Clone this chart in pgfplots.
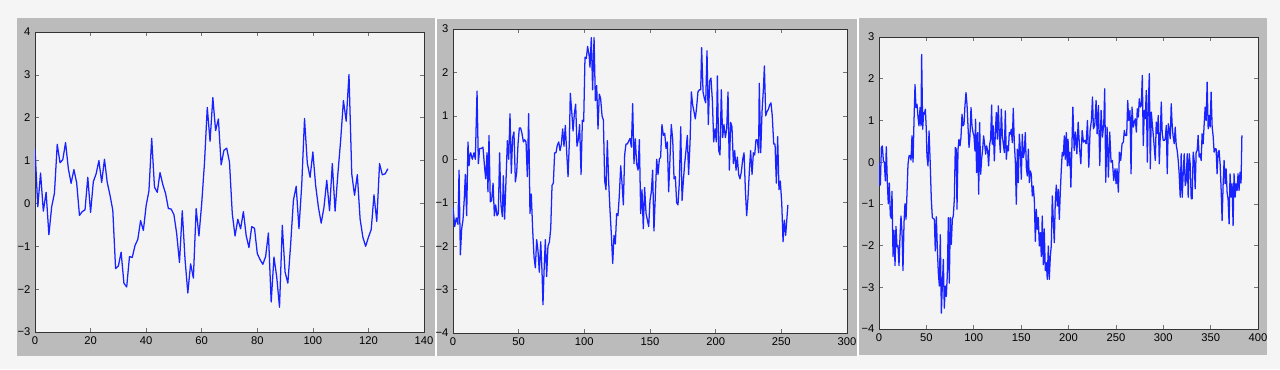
\documentclass[border=0pt]{standalone}
\usepackage{pgfplots}
\pgfplotsset{compat=1.18}
\usepackage{fontspec}
\setmainfont{Liberation Sans}
\definecolor{outerbg}{RGB}{245,245,245}
\definecolor{framegray}{RGB}{187,187,187}
\definecolor{axbg}{RGB}{244,244,244}
\definecolor{lineblue}{RGB}{25,35,255}
\pgfplotsset{mystyle/.style={
  scale only axis, anchor=south west,
  axis background/.style={fill=axbg},
  axis line style={black!80, line width=0.65pt},
  tick align=inside, tick pos=both,
  major tick length=3pt,
  every tick/.style={black!55, line width=0.4pt},
  tick label style={font=\fontsize{8.4}{9}\selectfont, text=black},
}}
\begin{document}
\begin{tikzpicture}
\useasboundingbox (0,0) rectangle (960pt,276.75pt);
\fill[outerbg] (0,0) rectangle (960pt,276.75pt);
\fill[white] (326.25pt,9.75pt) rectangle (327.75pt,263.25pt);
\fill[white] (643pt,9.75pt) rectangle (644.25pt,263.25pt);
\fill[framegray] (12.75pt,9.75pt) rectangle (326.25pt,263.25pt);
\fill[framegray] (327.75pt,9.75pt) rectangle (643pt,262.5pt);
\fill[framegray] (644.25pt,10.5pt) rectangle (950.25pt,263.25pt);

\begin{axis}[mystyle, at={(26.25pt,27.75pt)}, width=291.75pt, height=225pt,
  xmin=0, xmax=140, ymin=-3, ymax=4,
  xtick={0,20,40,60,80,100,120,140}, xticklabels={0,20,40,60,80,100,120,140},
  ytick={-3,-2,-1,0,1,2,3,4}, yticklabels={−3,−2,−1,0,1,2,3,4}]
\addplot[color=lineblue, line width=0.95pt, mark=none, line join=round] coordinates {
(0,1.28)(1,-0.08)(2,0.71)(3,-0.18)(4,0.26)(5,-0.73)(6,-0.08)(7,0.24)(8,1.38)(9,0.95)
(10,1.02)(11,1.42)(12,0.81)(13,0.47)(14,0.79)(15,0.48)(16,-0.28)(17,-0.19)(18,-0.15)(19,0.61)
(20,-0.21)(21,0.51)(22,0.69)(23,1.0)(24,0.49)(25,1.03)(26,0.49)(27,0.19)(28,-0.16)(29,-1.52)
(30,-1.46)(31,-1.14)(32,-1.86)(33,-1.95)(34,-1.24)(35,-1.26)(36,-0.98)(37,-0.84)(38,-0.40)(39,-0.63)
(40,-0.05)(41,0.29)(42,1.52)(43,0.38)(44,0.26)(45,0.72)(46,0.44)(47,0.23)(48,-0.12)(49,-0.13)
(50,-0.26)(51,-0.71)(52,-1.38)(53,-0.17)(54,-1.31)(55,-2.09)(56,-1.41)(57,-1.74)(58,-0.12)(59,-0.76)
(60,0.0)(61,0.95)(62,2.24)(63,1.45)(64,2.47)(65,1.7)(66,1.97)(67,0.9)(68,1.24)(69,1.29)
(70,0.96)(71,-0.24)(72,-0.76)(73,-0.37)(74,-0.59)(75,-0.19)(76,-0.75)(77,-1.03)(78,-0.54)(79,-0.58)
(80,-1.17)(81,-1.31)(82,-1.42)(83,-1.24)(84,-0.69)(85,-2.3)(86,-1.25)(87,-1.72)(88,-2.42)(89,-0.51)
(90,-1.6)(91,-1.86)(92,-0.96)(93,0.07)(94,0.4)(95,-0.59)(96,0.44)(97,1.98)(98,0.94)(99,0.61)
(100,1.2)(101,0.42)(102,-0.09)(103,-0.46)(104,-0.09)(105,0.54)(106,-0.17)(107,0.93)(108,-0.18)(109,0.69)
(110,1.47)(111,2.4)(112,1.92)(113,3.01)(114,0.69)(115,0.19)(116,0.67)(117,-0.36)(118,-0.79)(119,-1.0)
(120,-0.79)(121,-0.61)(122,0.2)(123,-0.42)(124,0.93)(125,0.67)(126,0.69)(127,0.81)
};
\end{axis}

\begin{axis}[mystyle, at={(339.75pt,27pt)}, width=295.5pt, height=228pt,
  xmin=0, xmax=300, ymin=-4, ymax=3,
  xtick={0,50,100,150,200,250,300}, xticklabels={0,50,100,150,200,250,300},
  ytick={-4,-3,-2,-1,0,1,2,3}, yticklabels={−4,−3,−2,−1,0,1,2,3}]
\addplot[color=lineblue, line width=0.95pt, mark=none, line join=round] coordinates {
(0,-1.1)(1.3,-1.55)(2.5,-1.35)(3.8,-1.5)(4.6,-0.25)(5.6,-2.2)(6.6,-1.6)(7.6,-1.4)(8.6,-0.9)(9.4,-0.35)
(10.4,-1.3)(11.4,0.4)(12.2,-0.15)(12.9,0.1)(13.5,0.15)(14.7,0.0)(16,0.15)(17,0.0)(18.3,1.57)(19.3,-0.1)
(20.3,0.25)(21.6,0.25)(22.8,0.28)(24.1,-0.2)(24.9,-0.45)(25.9,0.15)(26.6,-0.75)(27.4,0.55)(28.4,-0.98)(29.4,-0.95)
(30.5,-0.55)(31.5,-1.3)(32.5,-1.05)(33.5,-1.3)(34.5,-1.25)(35.5,0.15)(36.5,-1.05)(37.6,-1.32)(38.3,-0.38)(39.3,-1.38)
(40.4,-0.45)(41.4,0.43)(42.4,0.0)(43.4,1.05)(44.4,-0.32)(45.4,0.5)(46.4,0.63)(47.5,-0.52)(48.5,-0.3)(49.5,0.35)
(50.5,0.72)(51.5,0.72)(52.5,0.6)(53.6,0.4)(54.6,0.45)(55.6,0.4)(56.6,-0.4)(57.6,1.05)(58.6,-1.25)(59.6,-0.8)
(60.7,-1.65)(61.7,-2.25)(62.7,-2.5)(63.7,-1.85)(64.7,-2.1)(65.7,-2.6)(66.8,-1.9)(67.8,-2.6)(68.5,-3.35)(69.3,-2.6)
(70.3,-1.85)(71.3,-2.7)(72.3,-2.0)(73.4,-1.9)(74.4,-1.6)(75.4,-0.6)(76.4,-0.55)(77.4,0.15)(78.4,0.15)(79.4,0.32)
(80.5,0.4)(81.5,0.2)(82.5,0.35)(83.5,0.7)(84.5,0.3)(85.5,0.78)(86.5,0.2)(87.6,-0.4)(88.6,0.4)(89.3,1.52)
(90.4,1.1)(91.4,0.65)(92.4,1.05)(93.4,1.27)(94.4,0.3)(95.4,0.45)(96.4,0.8)(97.5,-0.35)(98.5,0.9)(99.5,0.87)
(100.5,2.35)(101.5,2.32)(102.5,2.6)(103.6,2.4)(104.3,2.12)(105.3,2.8)(106.3,1.6)(107.4,2.8)(108.4,1.35)(109.4,1.7)
(110.4,0.7)(111.4,1.5)(112.4,1.4)(113.5,1.0)(114.5,0.9)(115.5,-0.5)(116.5,-0.7)(117.5,0.43)(118.5,-0.5)(119.5,-1.15)
(120.6,-1.75)(121.6,-2.4)(122.6,-1.75)(123.6,-1.95)(124.6,-1.25)(125.6,-1.3)(126.6,-0.85)(127.7,-0.15)(128.7,-0.55)(129.7,-1.05)
(130.7,0.1)(131.7,0.35)(132.7,0.35)(133.8,0.42)(134.8,0.48)(135.8,0.28)(136.8,1.28)(137.8,-0.1)(138.8,0.47)(139.8,-0.1)
(140.9,-0.25)(141.9,0.45)(142.9,-1.25)(143.9,-0.7)(144.9,-1.6)(145.9,-0.65)(147,-1.25)(148,-1.4)(149,-1.55)(150,-0.95)
(151,-0.75)(152,-0.25)(153,-1.65)(154.1,-0.8)(155.1,0.0)(156.1,-0.35)(157.1,0.0)(158.1,0.05)(159.1,0.8)(160.2,0.55)
(161.2,0.6)(162.2,0.25)(163.2,0.4)(164.2,-0.75)(165.2,0.0)(166.2,0.8)(167.3,0.45)(168.3,-0.45)(169.3,-0.4)(170.3,-1.0)
(171.3,-1.05)(172.3,-0.55)(173.4,0.75)(174.4,-0.95)(175.4,-0.5)(176.4,-0.1)(177.4,0.2)(178.4,0.55)(179.4,-0.35)(180.5,0.4)
(181.5,1.55)(182.5,1.25)(183.5,1.1)(184.5,0.93)(185.5,1.2)(186.5,1.55)(187.6,1.6)(188.6,1.6)(189.3,2.57)(190.4,1.55)
(191.4,1.4)(192.4,1.3)(193.4,2.5)(194.4,0.8)(195.4,1.8)(196.4,1.87)(197.5,1.35)(198.5,0.4)(199.5,0.7)(200.5,0.4)
(201.3,1.92)(202.3,0.2)(203.3,0.1)(204.3,1.6)(205.3,0.5)(206.3,0.8)(207.4,0.5)(208.4,0.7)(209.4,1.55)(210.4,-0.25)
(211.4,0.85)(212.4,0.75)(213.5,-0.1)(214.5,0.2)(215.5,-0.25)(216.5,0.05)(217.5,-0.35)(218.5,-0.45)(219.5,-0.3)(220.6,0.0)
(221.6,0.15)(222.6,-0.7)(223.6,-1.3)(224.6,-0.9)(225.6,-0.3)(226.6,0.2)(227.7,-0.35)(228.7,0.15)(229.7,0.1)(230.7,0.45)
(231.7,0.45)(232.7,0.15)(233.2,1.75)(234.3,0.15)(235.3,1.1)(236.3,1.6)(237.1,2.15)(238.1,1.0)(239.1,1.1)(240.1,1.15)
(241.1,1.25)(242.1,1.3)(243.1,1.0)(244.2,0.35)(245.2,0.35)(246.2,-0.55)(247.2,0.52)(248.2,-0.7)(249.2,-0.5)(250.3,-1.0)
(251.3,-1.9)(252.3,-1.4)(253.3,-1.75)(255,-1.05)
};
\end{axis}

\begin{axis}[mystyle, at={(659.25pt,30pt)}, width=284.25pt, height=219pt,
  xmin=0, xmax=400, ymin=-4, ymax=3,
  xtick={0,50,100,150,200,250,300,350,400}, xticklabels={0,50,100,150,200,250,300,350,400},
  ytick={-4,-3,-2,-1,0,1,2,3}, yticklabels={−4,−3,−2,−1,0,1,2,3}]
\addplot[color=lineblue, line width=0.95pt, mark=none, line join=round] coordinates {
(0,0.0)(0.7,-0.55)(1.4,-0.55)(2.5,0.35)(3.5,0.39)(4.6,0.03)(5.6,0.0)(6.7,-0.45)(7.7,0.37)(8.8,-0.49)
(9.8,-1.0)(10.9,-0.5)(11.9,-1.27)(13,-1.35)(13.7,-0.7)(14.8,-2.26)(15.8,-1.63)(16.9,-2.48)(17.9,-1.54)(19,-2.03)
(20,-2.0)(21.1,-2.48)(22.1,-1.82)(23.2,-1.29)(24.3,-1.69)(25.3,-2.6)(26.4,-1.45)(27.4,-1.0)(28.5,-1.37)(29.5,-0.77)
(30.6,-0.05)(31.7,0.15)(32.7,0.16)(33.8,0.05)(34.8,0.63)(35.9,0.0)(36.9,0.95)(38,1.86)(39,1.31)(40.1,1.39)
(41.2,1.07)(42.2,0.87)(43.3,1.31)(44.3,0.87)(45,2.58)(46.1,0.79)(47.1,1.19)(47.8,1.15)(48.9,1.27)(49.9,0.79)
(50.6,0.15)(51.7,-0.09)(52.8,0.75)(53.9,0.07)(55.2,-0.89)(56.3,-1.33)(57.3,-1.35)(58.4,-1.37)(59.4,-2.13)(60.5,-1.31)
(61.6,-2.09)(62.6,-2.65)(63.7,-2.97)(64.7,-1.74)(65.8,-3.62)(66.8,-2.97)(67.9,-2.33)(68.9,-3.5)(70,-2.97)(71,-3.22)
(72.1,-2.7)(73.2,-1.33)(74.2,-2.9)(75.3,-1.33)(76.3,-1.97)(77.4,-1.37)(78.4,-1.29)(79.5,-0.89)(80.5,0.35)(81.6,0.31)
(82.3,-1.13)(83.4,0.31)(84.4,0.55)(85.5,0.39)(86.5,0.59)(87.6,1.15)(88.6,0.87)(89.7,0.91)(90.7,1.35)(91.8,1.67)
(92.9,1.37)(93.9,0.87)(95,0.35)(96,0.63)(97.1,1.31)(98.1,0.87)(99.2,0.71)(100.2,0.63)(101.3,0.27)(101.9,1.03)
(103,-0.25)(104.1,0.71)(105.2,-0.77)(106.2,0.95)(107.3,-0.29)(108.3,0.07)(109.4,0.31)(110.4,0.63)(111.5,0.43)(112.6,0.19)
(113.6,0.39)(114.7,0.27)(115.7,-0.09)(116.8,0.43)(117.8,0.55)(118.9,1.37)(119.6,0.43)(120.6,0.87)(121.7,0.03)(122.8,0.71)
(123.8,1.19)(124.9,0.55)(125.9,1.35)(127,0.63)(128,0.23)(129.1,1.27)(130.2,0.63)(131.2,0.43)(132.3,0.23)(133.3,1.23)
(134.4,0.07)(135.4,0.39)(136.5,0.27)(137.5,0.71)(138.6,0.67)(139.6,0.79)(140.7,0.47)(141.7,1.29)(142.8,0.47)(143.9,0.0)
(144.9,-1.01)(146,0.31)(147,-0.49)(148.1,0.67)(149.1,0.31)(150.2,-0.41)(151.2,0.67)(152.3,0.11)(153.3,0.23)(154.4,0.71)
(155.5,-0.13)(156.5,-0.33)(157.6,0.31)(158.6,-0.49)(159.7,-0.21)(160.7,-0.29)(161.8,-0.81)(162.8,-0.57)(163.9,-0.89)(165,-1.9)
(166,-1.13)(167.1,-1.61)(168.1,-1.33)(169.2,-2.01)(170.2,-1.69)(171.3,-2.26)(172.3,-1.29)(173.4,-2.46)(174.4,-1.6)(175.5,-2.6)
(176.6,-2.41)(177.6,-2.81)(178.7,-2.01)(179.7,-2.81)(180.8,-2.26)(181.8,-2.01)(182.9,-0.81)(183.9,-1.37)(185,-1.93)(186,-0.97)
(187.1,-0.55)(188.2,-1.05)(189.2,-0.65)(190.3,-1.37)(191.3,-0.73)(192.4,-0.17)(193.4,0.23)(194.5,0.15)(195.6,0.63)(196.6,0.07)
(197.7,0.71)(198.7,-0.09)(199.5,0.55)(200.5,-0.08)(201.5,0.24)(202.5,-0.6)(203.5,0.3)(204.6,1.32)(206,0.28)(207.4,0.72)
(208.8,0.2)(210.2,0.96)(211.6,0.36)(213,-0.04)(214.4,0.76)(215.8,0.48)(217.2,0.52)(218.6,0.44)(220,1.0)(221.4,-0.12)
(222.8,0.76)(224.2,1.0)(225.3,1.56)(226.3,0.8)(227.7,0.88)(229.1,1.48)(230.2,0.68)(231.6,1.36)(233,-0.08)(234.4,1.24)
(235.8,0.6)(237.2,0.92)(238.2,1.76)(239.3,-0.48)(240.7,0.84)(242.1,-0.36)(243.5,0.72)(244.9,0.0)(246.3,0.04)(247.7,-0.44)
(249.1,-0.16)(250.2,-0.52)(251.2,-0.16)(252.6,-0.72)(253.7,0.24)(255.1,0.04)(256.5,0.44)(257.9,0.48)(258.9,0.76)(260,0.64)
(261.4,0.64)(262.5,1.48)(263.5,1.0)(264.9,1.24)(266,-0.28)(267,1.32)(268.4,0.84)(269.5,0.96)(270.5,1.04)(271.6,0.72)
(272.6,1.28)(273.7,1.08)(274.7,1.52)(275.8,1.32)(276.8,1.36)(277.9,2.08)(278.9,0.4)(280,1.24)(281,1.04)(282.1,1.72)
(283.2,0.0)(284.2,1.36)(285.3,2.12)(286.3,-0.16)(287.4,1.2)(288.4,0.92)(289.5,0.64)(290.5,0.36)(291.6,0.04)(292.6,0.96)
(293.7,0.68)(294.7,1.12)(295.8,-0.04)(296.8,0.6)(297.9,1.44)(298.9,0.68)(300,0.52)(301,0.52)(302.1,0.56)(303.2,0.88)
(304.2,-0.28)(305.3,0.92)(306.3,0.76)(307.4,0.56)(308.4,1.4)(309.5,0.84)(310.5,0.6)(311.6,0.44)(312.6,0.84)(313.7,0.4)
(314.7,0.28)(315.8,0.04)(316.8,-0.28)(317.9,-0.84)(318.9,0.2)(320,-0.84)(321.1,-0.24)(322.1,0.2)(323.2,-0.56)(324.2,-0.44)
(325.3,0.2)(326.3,-0.84)(327.4,0.2)(328.4,-0.04)(329.5,-0.88)(330.5,-0.88)(331.6,0.24)(332.6,0.04)(333.7,-0.64)(334.7,0.24)
(335.8,0.28)(336.8,0.64)(337.9,0.12)(338.9,0.2)(340,0.04)(341,0.68)(342.1,0.44)(343.2,0.92)(344.2,1.32)(345.3,1.0)
(346.3,1.92)(347.4,0.8)(348.4,1.12)(349.5,0.84)(350.5,1.68)(351.6,0.84)(352.6,0.64)(353.7,0.24)(354.7,0.32)(355.8,0.32)
(356.8,-0.28)(357.9,0.24)(358.9,0.28)(360,-0.04)(361,-0.6)(362.1,-1.4)(363.2,-0.52)(364.2,0.04)(365.3,-0.52)(366.3,-0.16)
(367.4,-0.72)(368.4,-0.88)(369.5,-1.48)(370.5,-0.28)(371.6,-0.84)(372.6,-0.52)(373.7,-1.52)(374.7,-0.28)(375.8,-0.84)(376.8,-0.52)
(377.9,-0.68)(378.9,-0.28)(380,-0.68)(381,-0.24)(382.1,-0.5)(383,0.64)
};
\end{axis}
\end{tikzpicture}
\end{document}
